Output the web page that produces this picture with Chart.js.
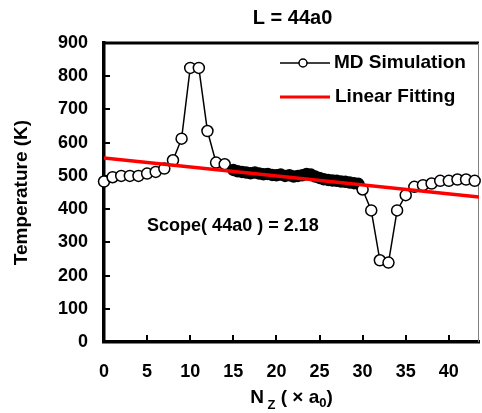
<!DOCTYPE html>
<html>
<head>
<meta charset="utf-8">
<script src="https://cdn.jsdelivr.net/npm/chart.js@4.4.1/dist/chart.umd.min.js"></script>
<style>
  html, body { margin: 0; padding: 0; background: #fff; overflow: hidden; }
  #wrap { width: 482px; height: 413px; overflow: hidden; }
</style>
</head>
<body>
<div id="wrap"><canvas id="chart" width="486" height="413"></canvas></div>
<script>
// Temperature profile along z for L = 44a0 (MD) with its linear fit

// left lead, open circles
const nzLeft = [0, 1, 2, 3, 4, 5, 6, 7, 8, 9, 10, 11, 12, 13, 14];
const tempLeft = [483, 496, 500, 500, 500, 507, 512, 522, 547, 612, 825, 825, 635, 540, 535];

// central region, sampled densely (filled)
const nzCore = [15, 15.5, 16, 16.5, 17, 17.5, 18, 18.5, 19, 19.5, 20, 20.5, 21, 21.5, 22,
                22.5, 23, 23.5, 24, 24.5, 25, 25.5, 26, 26.5, 27, 27.5, 28, 28.5, 29, 29.5];
const tempCore = [518, 514, 512, 510, 508, 510, 507, 505, 506, 503, 502, 504, 500, 502, 498,
                  500, 502, 506, 504, 498, 494, 490, 488, 486, 485, 483, 482, 480, 478, 476];

// right lead, open circles
const nzRight = [30, 31, 32, 33, 34, 35, 36, 37, 38, 39, 40, 41, 42, 43];
const tempRight = [459, 396, 246, 239, 396, 442, 467, 472, 477, 485, 485, 489, 489, 485];

// linear fit end points
const fitNz = [0, 43.5];
const fitTemp = [554, 436.5];

const xTicks = [0, 5, 10, 15, 20, 25, 30, 35, 40];
const yTicks = [0, 100, 200, 300, 400, 500, 600, 700, 800, 900];

const titleText = 'L = 44a0';
const scopeText = 'Scope( 44a0 ) = 2.18';
const legendMD = 'MD Simulation';
const legendFit = 'Linear Fitting';

const FONT = '"Liberation Sans", Arial, sans-serif';

const mdX = nzLeft.concat(nzCore, nzRight);
const mdY = tempLeft.concat(tempCore, tempRight);
const mdPoints = mdX.map((x, i) => ({ x: x, y: mdY[i] }));
const mdFill = nzLeft.map(() => '#fff')
  .concat(nzCore.map(() => '#000'), nzRight.map(() => '#fff'));
const fitPoints = fitNz.map((x, i) => ({ x: x, y: fitTemp[i] }));

const decorations = {
  id: 'decorations',
  beforeDatasetsDraw(chart) {
    const { ctx, chartArea: a, scales: { x, y } } = chart;
    ctx.save();
    ctx.strokeStyle = '#000';
    ctx.lineWidth = 2;
    // inward tick marks
    yTicks.forEach(v => {
      const py = Math.round(y.getPixelForValue(v));
      if (v === 0 || v === 900) return;
      ctx.beginPath();
      ctx.moveTo(a.left, py);
      ctx.lineTo(a.left + 6, py);
      ctx.stroke();
    });
    xTicks.forEach(v => {
      if (v === 0) return;
      const px = Math.round(x.getPixelForValue(v));
      ctx.beginPath();
      ctx.moveTo(px, a.bottom);
      ctx.lineTo(px, a.bottom - 7);
      ctx.stroke();
    });
    // frame: heavy top edge, thin right edge
    ctx.lineWidth = 3;
    ctx.beginPath();
    ctx.moveTo(a.left - 1, a.top);
    ctx.lineTo(a.right, a.top);
    ctx.stroke();
    ctx.strokeStyle = '#808080';
    ctx.lineWidth = 1;
    ctx.beginPath();
    ctx.moveTo(a.right - 0.5, a.top);
    ctx.lineTo(a.right - 0.5, a.bottom);
    ctx.stroke();
    ctx.restore();
  },
  afterDraw(chart) {
    const { ctx, chartArea: a, scales: { x, y } } = chart;
    ctx.save();
    ctx.fillStyle = '#000';
    ctx.textBaseline = 'middle';

    // title
    ctx.font = 'bold 20px ' + FONT;
    ctx.textAlign = 'center';
    ctx.fillText(titleText, (a.left + a.right) / 2 + 1, 18);

    // legend
    ctx.textAlign = 'left';
    ctx.font = 'bold 19px ' + FONT;
    ctx.strokeStyle = '#000';
    ctx.lineWidth = 1.5;
    ctx.beginPath();
    ctx.moveTo(280, 63);
    ctx.lineTo(330, 63);
    ctx.stroke();
    ctx.beginPath();
    ctx.arc(303, 63, 4, 0, Math.PI * 2);
    ctx.fillStyle = '#fff';
    ctx.fill();
    ctx.stroke();
    ctx.fillStyle = '#000';
    ctx.fillText(legendMD, 334, 63);
    ctx.strokeStyle = '#ff0000';
    ctx.lineWidth = 3;
    ctx.beginPath();
    ctx.moveTo(280, 97);
    ctx.lineTo(330, 97);
    ctx.stroke();
    ctx.fillText(legendFit, 335, 97);

    // slope annotation
    ctx.font = 'bold 18px ' + FONT;
    ctx.fillText(scopeText, x.getPixelForValue(5), y.getPixelForValue(348));

    // x axis title with subscripts
    const big = 'bold 19px ' + FONT;
    const small = 'bold 13px ' + FONT;
    const parts = [
      { t: 'N', f: big, dy: 0 },
      { t: ' ', f: small, dy: 0 },
      { t: 'Z', f: small, dy: 6 },
      { t: ' ( \u00d7 a', f: big, dy: 0 },
      { t: '0', f: small, dy: 4 },
      { t: ')', f: big, dy: 0 }
    ];
    let total = 0;
    parts.forEach(p => { ctx.font = p.f; p.w = ctx.measureText(p.t).width; total += p.w; });
    let cx = (a.left + a.right) / 2 - total / 2;
    ctx.textBaseline = 'alphabetic';
    parts.forEach(p => {
      ctx.font = p.f;
      ctx.fillText(p.t, cx, 403 + p.dy);
      cx += p.w;
    });
    ctx.restore();
  }
};

new Chart(document.getElementById('chart'), {
  type: 'line',
  data: {
    datasets: [
      {
        label: legendFit,
        data: fitPoints,
        borderColor: '#ff0000',
        borderWidth: 3.5,
        pointRadius: 0,
        fill: false,
        order: 0
      },
      {
        label: legendMD,
        data: mdPoints,
        borderColor: '#000',
        borderWidth: 1.5,
        pointRadius: 5.5,
        pointBorderWidth: 1.5,
        pointBorderColor: '#000',
        pointBackgroundColor: mdFill,
        fill: false,
        tension: 0,
        clip: false,
        order: 1
      }
    ]
  },
  options: {
    responsive: false,
    animation: false,
    devicePixelRatio: 1,
    layout: { padding: { top: 43, right: 1, left: 0, bottom: 0 } },
    plugins: {
      legend: { display: false },
      tooltip: { enabled: false },
      title: { display: false }
    },
    scales: {
      x: {
        type: 'linear',
        min: 0,
        max: 43.5,
        afterBuildTicks: s => { s.ticks = xTicks.map(v => ({ value: v })); },
        afterFit: s => { s.height = 71; s.paddingLeft = 0; s.paddingRight = 0; },
        grid: { display: false, drawTicks: false },
        border: { display: true, color: '#000', width: 3.5 },
        ticks: {
          color: '#000',
          padding: 19,
          maxRotation: 0,
          font: { family: FONT, size: 18, weight: 'bold' }
        }
      },
      y: {
        min: 0,
        max: 900,
        afterBuildTicks: s => { s.ticks = yTicks.map(v => ({ value: v })); },
        afterFit: s => { s.width = 104; },
        grid: { display: false, drawTicks: false },
        border: { display: true, color: '#000', width: 3.5 },
        ticks: {
          color: '#000',
          padding: 16,
          font: { family: FONT, size: 18, weight: 'bold' }
        },
        title: {
          display: true,
          text: 'Temperature (K)',
          color: '#000',
          padding: { top: 10, bottom: 0 },
          font: { family: FONT, size: 19, weight: 'bold' }
        }
      }
    }
  },
  plugins: [decorations]
});
</script>
</body>
</html>
